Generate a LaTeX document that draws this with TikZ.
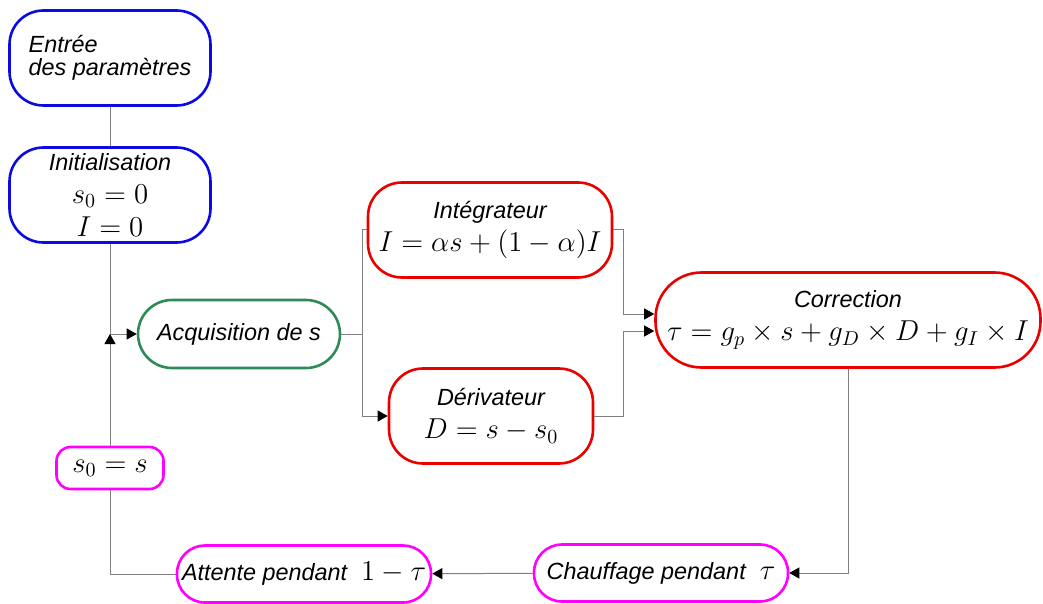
\documentclass[tikz,border=0pt]{standalone}
\usepackage[no-math]{fontspec}
\setmainfont{Liberation Sans}
\usepackage{amsmath}
\usepackage{tikz}
\usetikzlibrary{arrows.meta, positioning, calc}
\definecolor{bleuini}{RGB}{10,10,225}
\definecolor{vertacq}{RGB}{46,139,87}
\definecolor{rougecalc}{RGB}{235,0,0}
\definecolor{rosetemps}{RGB}{255,0,255}
\newcommand{\grand}[1]{{\Large$#1$}}

\begin{document}
\begin{tikzpicture}[
  x=0.5pt, y=-0.5pt,
  etape/.style={draw=#1, line width=1.3pt, rounded corners=17pt, inner sep=0pt, minimum width=100.5pt, minimum height=47.5pt, align=center, font=\fontsize{11.7}{16.5}\selectfont\itshape},
  arr/.style={-{Triangle[length=5pt, width=5.5pt, color=black]}, gray, line width=0.5pt},
  lien/.style={gray, line width=0.5pt}
]
\useasboundingbox (0,0) rectangle (1043,604);

\node[etape=bleuini, align=left, font=\fontsize{11.7}{11.7}\selectfont\itshape] (entree) at (110,58) {Entrée\\des paramètres};
\node[etape=bleuini] (init) at (110,195) {Initialisation\\\grand{s_0 = 0}\\\grand{I = 0}};
\node[etape=vertacq, minimum width=101pt, minimum height=34pt] (acq) at (239,334) {Acquisition de s};
\node[etape=rougecalc, minimum width=122pt] (integ) at (490,230) {Intégrateur\\\grand{I = \alpha s + (1-\alpha)I}};
\node[etape=rougecalc, minimum width=102pt] (deriv) at (491,416) {Dérivateur\\\grand{D = s - s_0}};
\node[etape=rougecalc, minimum width=192.5pt, rounded corners=23pt] (corr) at (848,320) {Correction\\\grand{\tau = g_p \times s + g_D \times D + g_I \times I}};
\node[etape=rosetemps, minimum width=53.5pt, minimum height=21pt, rounded corners=7pt] (boucle) at (110,468) {\grand{s_0 = s}};
\node[etape=rosetemps, minimum width=127pt, minimum height=28.5pt, rounded corners=14pt] (attente) at (304,574) {Attente pendant\hspace{7pt}\grand{1-\tau}};
\node[etape=rosetemps, minimum width=127pt, minimum height=28.5pt, rounded corners=14pt] (chauffe) at (661,573) {Chauffage pendant\hspace{7pt}\grand{\tau}};

\coordinate (fourche) at ($(acq.east)+(21,0)$);

\draw[lien] (entree) -- (init);
\draw[arr] (init.south) |- (acq.west);
\draw[arr] (boucle.north) -- (boucle.north |- acq.west);
\draw[lien] (acq.east) -- (fourche) |- (integ.west);
\draw[arr] (fourche) |- (deriv.west);
\draw[arr] (integ.east) -- ++(10,0) |- ($(corr.west)+(0,-6)$);
\draw[arr] (deriv.east) -- ++(29,0) |- ($(corr.west)+(0,11)$);
\draw[arr] (corr.south) |- (chauffe.east);
\draw[arr] (chauffe) -- (attente);
\draw[lien] (attente.west) -| (boucle.south);

\end{tikzpicture}
\end{document}
